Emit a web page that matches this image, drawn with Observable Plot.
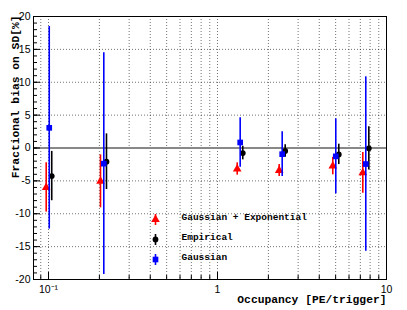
<!DOCTYPE html>
<html><head><meta charset="utf-8">
<script src="https://cdn.jsdelivr.net/npm/d3@7"></script>
<script src="https://cdn.jsdelivr.net/npm/@observablehq/plot@0.6"></script>
<style>body{margin:0;background:#fff} #chart{width:407px;height:310px}</style>
</head><body><div id="chart"></div>
<script>
// ---- data ----
const seriesNames = ["Gaussian + Exponential", "Empirical", "Gaussian"];
const seriesColors = ["#ff0000", "#000000", "#0000ff"];
const seriesSymbols = ["triangle", "circle", "square"];

const xGaussExp = [0.0969, 0.203, 1.308, 2.317, 4.81, 7.24];
const yGaussExp = [-6.0, -5.07, -3.19, -3.42, -2.75, -3.78];
const eGaussExp = [3.75, 4.03, 0.94, 0.91, 1.33, 3.1];

const xEmpirical = [0.1045, 0.2203, 1.411, 2.515, 5.22, 7.86];
const yEmpirical = [-4.27, -2.08, -0.77, -0.46, -0.97, -0.05];
const eEmpirical = [3.75, 4.23, 1.03, 0.94, 1.55, 3.3];

const xGauss = [0.101, 0.2124, 1.362, 2.414, 5.01, 7.54];
const yGauss = [3.07, -2.38, 0.84, -0.94, -1.27, -2.44];
const eGauss = [15.4, 16.86, 3.75, 3.4, 5.7, 13.27];

const yTicks = [-20, -15, -10, -5, 0, 5, 10, 15, 20];
const yMinor = d3.range(-20, 21, 1);
const yGrid = [-15, -10, -5, 5, 10, 15];
const xTicks = [0.1, 1, 10];
const xTickLabels = ["10\u207B\u00B9", "1", "10"];
const xMinor = [0.09, 0.2, 0.3, 0.4, 0.5, 0.6, 0.7, 0.8, 0.9, 2, 3, 4, 5, 6, 7, 8, 9];
const xGrid = [0.09, 0.1, 0.2, 0.3, 0.4, 0.5, 0.6, 0.7, 0.8, 0.9, 1, 2, 3, 4, 5, 6, 7, 8, 9];
const xDomain = [0.0815, 10];
const yDomain = [-20, 20];
const xTitle = "Occupancy [PE/trigger]";
const yTitle = "Fractional bias on SD[%]";

// ---- build ----
const W = 407, H = 310;
const mL = 33, mR = 21, mT = 16, mB = 31;
const pw = W - mL - mR, ph = H - mT - mB;

const series = [
  [xGaussExp, yGaussExp, eGaussExp],
  [xEmpirical, yEmpirical, eEmpirical],
  [xGauss, yGauss, eGauss]
].map(([xs, ys, es], i) => xs.map((x, j) => ({x, y: ys[j], e: es[j], s: i})));

const barSymbol = {draw(ctx) { ctx.moveTo(0, -5.5); ctx.lineTo(0, 5.5); }};
const radii = [3.2, 2.9, 3.2];

const marks = [
  Plot.ruleX(xGrid, {x: d => d, stroke: "#000", strokeOpacity: 0.55, strokeDasharray: "1,2"}),
  Plot.ruleY(yGrid, {y: d => d, stroke: "#000", strokeOpacity: 0.55, strokeDasharray: "1,2"}),
  Plot.ruleY([0], {y: d => d, stroke: "#888", strokeWidth: 2})
];
series.forEach((data, i) => {
  marks.push(Plot.ruleX(data, {x: "x", y1: d => d.y - d.e, y2: d => d.y + d.e, stroke: seriesColors[i], strokeWidth: 1.6}));
  marks.push(Plot.dot(data, {x: "x", y: "y", symbol: () => seriesSymbols[i], fill: seriesColors[i], r: radii[i]}));
});
// legend
seriesNames.forEach((name, i) => {
  const dy = -60 + 20 * i;
  marks.push(Plot.dot([name], {frameAnchor: "bottom-left", dx: 122, dy, symbol: barSymbol, stroke: seriesColors[i], strokeWidth: 1.6, fill: "none", r: 3}));
  marks.push(Plot.dot([name], {frameAnchor: "bottom-left", dx: 122, dy, symbol: seriesSymbols[i], fill: seriesColors[i], r: radii[i]}));
  marks.push(Plot.text([name], {frameAnchor: "bottom-left", dx: 148, dy, text: d => d, textAnchor: "start", fontFamily: "Liberation Mono", fontWeight: "bold", fontSize: 9.5, fill: "#000"}));
});
marks.push(
  Plot.frame({stroke: "#000", strokeWidth: 1}),
  Plot.tickY(yMinor, {y: d => d, insetRight: pw - 4, stroke: "#000"}),
  Plot.tickY(yTicks, {y: d => d, insetRight: pw - 7, stroke: "#000"}),
  Plot.tickX(xMinor, {x: d => d, insetTop: ph - 4, stroke: "#000"}),
  Plot.tickX(xTicks, {x: d => d, insetTop: ph - 7, stroke: "#000"}),
  Plot.axisY(yTicks, {label: null, tickSize: 0, tickPadding: 3, tickFormat: d => String(d), fontSize: 10.5, fontFamily: "Liberation Sans"}),
  Plot.axisX(xTicks, {label: null, tickSize: 0, tickPadding: 6, tickFormat: d => xTickLabels[xTicks.indexOf(d)], fontSize: 10.5, fontFamily: "Liberation Sans"}),
  Plot.text([xTitle], {frameAnchor: "bottom-right", dy: 23, text: d => d, textAnchor: "end", fontFamily: "Liberation Mono", fontWeight: "bold", fontSize: 11.3, fill: "#000"}),
  Plot.text([yTitle], {frameAnchor: "top-left", dx: -23, dy: -1, rotate: -90, text: d => d, textAnchor: "end", fontFamily: "Liberation Mono", fontWeight: "bold", fontSize: 11.3, fill: "#000"})
);

const chart = Plot.plot({
  width: W, height: H,
  marginLeft: mL, marginRight: mR, marginTop: mT, marginBottom: mB,
  x: {type: "log", domain: xDomain, axis: null},
  y: {type: "linear", domain: yDomain, axis: null},
  style: {background: "#fff", color: "#000", overflow: "visible"},
  marks
});
document.getElementById("chart").appendChild(chart);
</script>
</body></html>
